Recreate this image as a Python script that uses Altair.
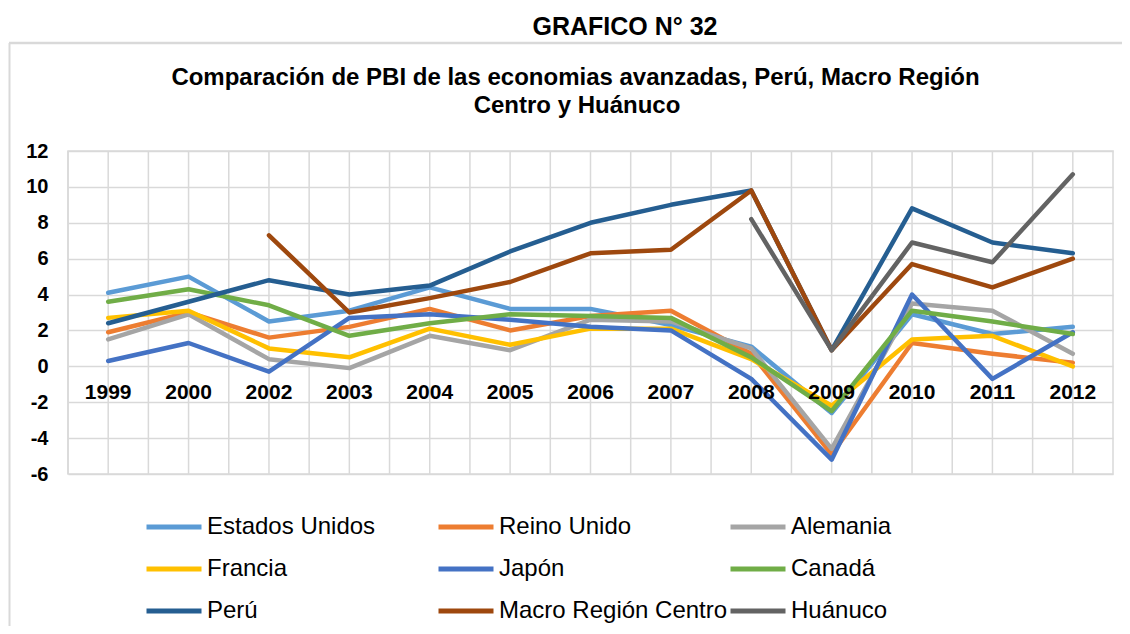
import altair as alt
import pandas as pd

years = ["1999", "2000", "2002", "2003", "2004", "2005", "2006", "2007",
         "2008", "2009", "2010", "2011", "2012"]

names = ["Estados Unidos", "Reino Unido", "Alemania", "Francia", "Japón",
         "Canadá", "Perú", "Macro Región Centro", "Huánuco"]
colors = ["#5B9BD5", "#ED7D31", "#A5A5A5", "#FFC000", "#4472C4",
          "#70AD47", "#255E91", "#9E480E", "#636363"]

estados_unidos = [4.1, 5.0, 2.5, 3.1, 4.4, 3.2, 3.2, 2.3, 1.1, -2.6, 2.9, 1.8, 2.2]
reino_unido = [1.9, 3.0, 1.6, 2.2, 3.2, 2.0, 2.8, 3.1, 0.7, -4.9, 1.3, 0.7, 0.2]
alemania = [1.5, 2.9, 0.4, -0.1, 1.7, 0.9, 2.6, 2.5, 1.0, -4.6, 3.5, 3.1, 0.7]
francia = [2.7, 3.1, 1.0, 0.5, 2.1, 1.2, 2.1, 2.1, 0.4, -2.2, 1.5, 1.7, 0.0]
japon = [0.3, 1.3, -0.3, 2.7, 2.9, 2.6, 2.2, 2.0, -0.7, -5.2, 4.0, -0.7, 1.9]
canada = [3.6, 4.3, 3.4, 1.7, 2.4, 2.9, 2.8, 2.7, 0.5, -2.5, 3.1, 2.5, 1.8]
peru = [2.4, 3.6, 4.8, 4.0, 4.5, 6.4, 8.0, 9.0, 9.8, 0.9, 8.8, 6.9, 6.3]
macro_region = [None, None, 7.3, 3.0, 3.8, 4.7, 6.3, 6.5, 9.8, 0.9, 5.7, 4.4, 6.0]
huanuco = [None, None, None, None, None, None, None, None, 8.2, 0.9, 6.9, 5.8, 10.7]

series = [estados_unidos, reino_unido, alemania, francia, japon, canada,
          peru, macro_region, huanuco]

rows = []
for name, vals in zip(names, series):
    for i, (yr, v) in enumerate(zip(years, vals)):
        if v is not None:
            rows.append({"series": name, "year": yr, "value": v, "idx": i})
df = pd.DataFrame(rows)
years_df = pd.DataFrame({"year": years})
one = pd.DataFrame({"a": [0]})

FONT = "Liberation Sans"
GRID = "#D9D9D9"

x_scale = alt.Scale(type="band", domain=years, paddingInner=0, paddingOuter=0)
x_axis = alt.Axis(title=None, orient="bottom", offset=-107.7, domain=False,
                  ticks=False, grid=False, labelAngle=0, labelFont=FONT,
                  labelFontSize=21, labelFontWeight="bold", labelColor="black",
                  labelPadding=15, zindex=1)

vgrid_edges = alt.Chart(years_df).mark_rule(color=GRID, strokeWidth=1.5).encode(
    x=alt.X("year:O", scale=x_scale, axis=x_axis, sort=years, bandPosition=0)
)
vgrid_centers = alt.Chart(years_df).mark_rule(color=GRID, strokeWidth=1.5).encode(
    x=alt.X("year:O", scale=x_scale, axis=x_axis, sort=years)
)

lines = alt.Chart(df).mark_line(strokeWidth=4.5, strokeCap="round",
                                strokeJoin="round").encode(
    x=alt.X("year:O", scale=x_scale, axis=x_axis, sort=years),
    y=alt.Y("value:Q", scale=alt.Scale(domain=[-6, 12], nice=False, zero=False),
            axis=alt.Axis(title=None, values=list(range(-6, 13, 2)),
                          labelExpr="'' + datum.value",
                          domain=False, ticks=False, grid=True, gridColor=GRID,
                          gridWidth=1.5, labelFont=FONT, labelFontSize=20,
                          labelFontWeight="bold", labelColor="black",
                          labelPadding=20)),
    color=alt.Color("series:N", sort=names,
                    scale=alt.Scale(domain=names, range=colors),
                    legend=alt.Legend(title=None, orient="none", legendX=76,
                                      legendY=346, columns=3, direction="horizontal",
                                      gridAlign="all",
                                      symbolType="stroke", symbolStrokeWidth=5,
                                      symbolSize=3025, labelFont=FONT,
                                      labelFontSize=24, labelColor="black",
                                      labelOffset=3, labelLimit=400,
                                      columnPadding=-12, rowPadding=-13)),
    order=alt.Order("idx:Q"),
)

box_top = alt.Chart(one).mark_rule(color=GRID, strokeWidth=2.5).encode(
    x=alt.value(-59), x2=alt.value(1080), y=alt.value(-108))
box_left = alt.Chart(one).mark_rule(color=GRID, strokeWidth=2).encode(
    x=alt.value(-58.5), y=alt.value(-108), y2=alt.value(490))

t_grafico = alt.Chart(one).mark_text(font=FONT, fontSize=25, fontWeight="bold",
                                     align="center", baseline="alphabetic",
                                     color="black").encode(
    x=alt.value(557), y=alt.value(-116), text=alt.value("GRAFICO N° 32"))
t_line1 = alt.Chart(one).mark_text(font=FONT, fontSize=24, fontWeight="bold",
                                   align="center", baseline="alphabetic",
                                   color="black").encode(
    x=alt.value(507.5), y=alt.value(-66),
    text=alt.value("Comparación de PBI de las economias avanzadas, Perú, Macro Región"))
t_line2 = alt.Chart(one).mark_text(font=FONT, fontSize=24, fontWeight="bold",
                                   align="center", baseline="alphabetic",
                                   color="black").encode(
    x=alt.value(509), y=alt.value(-38), text=alt.value("Centro y Huánuco"))

chart = alt.layer(box_top, box_left, vgrid_edges, vgrid_centers, lines,
                  t_grafico, t_line1, t_line2).properties(
    width=1045, height=323,
    padding={"left": 60, "top": 143, "right": 9, "bottom": 152},
    autosize=alt.AutoSizeParams(type="none"),
    background="white",
).configure_view(stroke=GRID, strokeWidth=1.5)

chart.save("out.html", embed_options={"renderer": "svg", "actions": False})
